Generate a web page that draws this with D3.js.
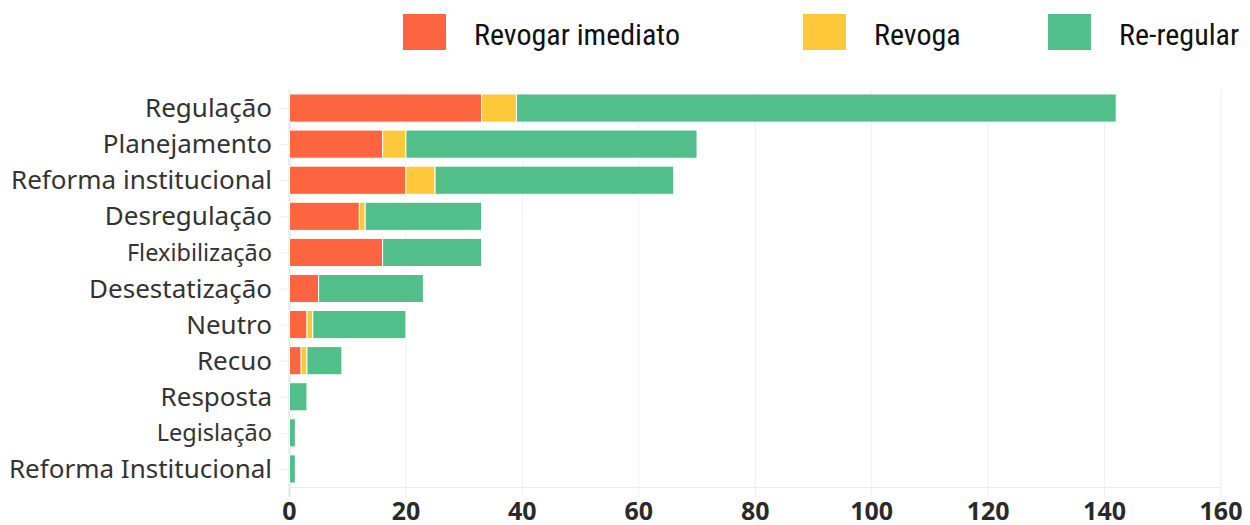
<!DOCTYPE html>
<html>
<head>
<meta charset="utf-8">
<script src="https://cdn.jsdelivr.net/npm/d3@7"></script>
<style>
  body { margin: 0; background: #fff; }
  .ylab { font-family: "Source Sans Pro", "Noto Sans", sans-serif; fill: #333; }
  .xlab { font-family: "Source Sans Pro", "Noto Sans", sans-serif; font-weight: bold; fill: #2a2a2a; }
  .leg { font-family: "Roboto Condensed", "Liberation Sans Narrow", "Roboto", sans-serif; fill: #111; }
</style>
</head>
<body>
<div id="chart"></div>
<script>
var categories = ["Regulação", "Planejamento", "Reforma institucional", "Desregulação",
                  "Flexibilização", "Desestatização", "Neutro", "Recuo", "Resposta",
                  "Legislação", "Reforma Institucional"];
var revogarImediato = [33, 16, 20, 12, 16, 5, 3, 2, 0, 0, 0];
var revoga          = [6, 4, 5, 1, 0, 0, 1, 1, 0, 0, 0];
var reRegular       = [103, 50, 41, 20, 17, 18, 16, 6, 3, 1, 1];
var seriesNames = ["Revogar imediato", "Revoga", "Re-regular"];
var xTicks = [0, 20, 40, 60, 80, 100, 120, 140, 160];

var width = 1250, height = 525;
var margin = {top: 90, right: 30, bottom: 38, left: 289};
var colors = ["#fd6440", "#ffc83b", "#52be8a"];

var svg = d3.select("#chart")
            .append("svg")
              .attr("width", width)
              .attr("height", height);

var rows = categories.map(function(c, i) {
    return {cat: c, "Revogar imediato": revogarImediato[i], "Revoga": revoga[i], "Re-regular": reRegular[i]};
});
var stacked = d3.stack().keys(seriesNames)(rows);

var x = d3.scaleLinear()
    .domain([0, 160])
    .range([margin.left + 0.5, 1221]);

var y = d3.scaleBand()
    .domain(categories)
    .range([margin.top, height - margin.bottom])
    .paddingInner(0.22)
    .paddingOuter(0.11);

// grid
svg.append("g")
    .selectAll("line")
    .data(xTicks)
    .enter().append("line")
    .attr("x1", d => x(d)).attr("x2", d => x(d))
    .attr("y1", margin.top).attr("y2", height - margin.bottom + 10)
    .style("stroke", d => d === 0 ? "#e4e4e4" : "#efefef")
    .style("stroke-width", d => d === 0 ? 2 : 1);

svg.append("line")
    .attr("x1", margin.left).attr("x2", x(160))
    .attr("y1", height - margin.bottom + 0.5).attr("y2", height - margin.bottom + 0.5)
    .style("stroke", "#ececec");

// y tick marks
svg.append("g")
    .selectAll("line")
    .data(categories)
    .enter().append("line")
    .attr("x1", margin.left - 10).attr("x2", margin.left)
    .attr("y1", d => y(d) + y.bandwidth() / 2 + 0.5)
    .attr("y2", d => y(d) + y.bandwidth() / 2 + 0.5)
    .style("stroke", "#eeeeee");

// bars
svg.append("g")
    .selectAll("g")
    .data(stacked)
    .enter().append("g")
    .style("fill", (d, i) => colors[i])
    .selectAll("rect")
    .data(d => d)
    .enter().append("rect")
    .filter(d => d[1] > d[0])
    .attr("x", d => x(d[0]))
    .attr("y", d => y(d.data.cat))
    .attr("width", d => x(d[1]) - x(d[0]))
    .attr("height", y.bandwidth())
    .style("stroke", "#fff")
    .style("stroke-width", 1);

// y labels
var smallLabels = ["Flexibilização", "Legislação"];
svg.append("g")
    .selectAll("text")
    .data(categories)
    .enter().append("text")
    .attr("class", "ylab")
    .attr("x", margin.left - 17)
    .attr("y", d => y(d) + y.bandwidth() / 2)
    .attr("dy", "0.35em")
    .attr("text-anchor", "end")
    .style("font-size", d => smallLabels.indexOf(d) >= 0 ? "23.5px" : "26px")
    .text(d => d);

// x labels
svg.append("g")
    .selectAll("text")
    .data(xTicks)
    .enter().append("text")
    .attr("class", "xlab")
    .attr("x", d => x(d))
    .attr("y", 520)
    .attr("text-anchor", "middle")
    .style("font-size", "25px")
    .text(d => d);

// legend
var legX = [403, 803, 1048];
var leg = svg.append("g")
    .selectAll("g")
    .data(seriesNames)
    .enter().append("g")
    .attr("transform", (d, i) => "translate(" + legX[i] + ",14)");

leg.append("rect")
    .attr("width", 43)
    .attr("height", 36)
    .style("fill", (d, i) => colors[i]);

leg.append("text")
    .attr("class", "leg")
    .attr("x", 71)
    .attr("y", 31)
    .style("font-size", "30px")
    .text(d => d);
</script>
</body>
</html>
